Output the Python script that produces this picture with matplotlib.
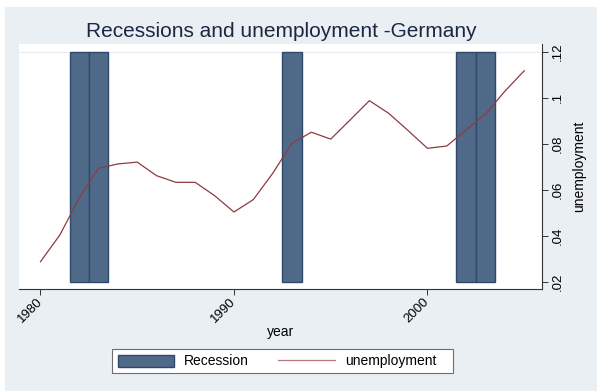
import numpy as np
import matplotlib.pyplot as plt
from matplotlib.patches import Rectangle

plt.rcParams['font.family'] = ['Liberation Sans', 'DejaVu Sans']

# unemployment rate, Germany
years = [1980, 1981, 1982, 1983, 1984, 1985, 1986, 1987, 1988, 1989,
         1990, 1991, 1992, 1993, 1994, 1995, 1996, 1997, 1998, 1999,
         2000, 2001, 2002, 2003, 2004, 2005]
unemployment = [0.0287, 0.0403, 0.0563, 0.0693, 0.0712, 0.0720, 0.0661, 0.0632,
                0.0632, 0.0574, 0.0503, 0.0557, 0.0671, 0.0802, 0.0850, 0.0820,
                0.0903, 0.0987, 0.0932, 0.0857, 0.0780, 0.0790, 0.0860, 0.0929,
                0.1028, 0.1117]

# recession years (bars from base .02 up to .12)
recession_years = [1982, 1983, 1993, 2002, 2003]
recession_top = [0.12, 0.12, 0.12, 0.12, 0.12]
recession_base = 0.02

xticks = [1980, 1990, 2000]
yticks = [0.02, 0.04, 0.06, 0.08, 0.10, 0.12]
ytick_labels = ['.02', '.04', '.06', '.08', '.1', '.12']

bg = '#e9eff2'
bar_color = '#4f6a88'
bar_edge = '#2d4a6c'
line_color = '#8f3a3f'

W, H = 597, 391
fig = plt.figure(figsize=(W / 100, H / 100), dpi=100)
fig.patch.set_facecolor('white')
fig.add_artist(Rectangle((5 / W, 0), 1 - 5 / W, 1 - 7 / H, transform=fig.transFigure,
                         facecolor=bg, edgecolor='none', zorder=-10))

ax = fig.add_axes([19 / W, 1 - 289 / H, (542 - 19) / W, (289 - 44) / H])
ax.set_facecolor('white')

heights = [t - recession_base for t in recession_top]
bars = ax.bar(recession_years, heights, bottom=recession_base, width=1.0,
              color=bar_color, edgecolor=bar_edge, linewidth=1.0, label='Recession', zorder=2)
line, = ax.plot(years, unemployment, color=line_color, linewidth=0.9,
                label='unemployment', zorder=3)
ax.axhline(0.12, color='#e6edf1', linewidth=0.8, zorder=1)

ax.set_xlim(1978.89, 2005.92)
ax.set_ylim(0.01683, 0.12335)

for s in ['top', 'left']:
    ax.spines[s].set_visible(False)
for s in ['bottom', 'right']:
    ax.spines[s].set_color('#333333')
    ax.spines[s].set_linewidth(0.8)

ax.yaxis.tick_right()
ax.yaxis.set_label_position('right')
ax.set_xticks(xticks)
ax.set_xticklabels([str(x) for x in xticks], rotation=45, ha='right',
                   va='center', rotation_mode='anchor', fontsize=9.5)
ax.set_yticks(yticks)
ax.set_yticklabels(ytick_labels, rotation=90, va='center', fontsize=9.5)
ax.tick_params(axis='both', length=4, width=0.7, color='#333333', pad=3)
ax.tick_params(axis='x', pad=4)

ax.set_xlabel('year', fontsize=10, va='top')
ax.xaxis.set_label_coords(0.5, -(325 - 289) / 245)
ax.set_ylabel('unemployment', fontsize=10, labelpad=6)

fig.text(281 / W, 1 - 37 / H, 'Recessions and unemployment -Germany',
         ha='center', va='baseline', fontsize=15, color='#1d2743')

# legend box drawn by hand, items placed inside it
fig.add_artist(Rectangle((112 / W, 1 - 373 / H), (452.5 - 112) / W, 24 / H,
                         transform=fig.transFigure, facecolor='white',
                         edgecolor='#6e6e6e', linewidth=0.8, zorder=5))
leg = fig.legend([bars, line], ['Recession', 'unemployment'], loc='center left',
                 bbox_to_anchor=(117.5 / W, 1 - 361.3 / H), ncol=2,
                 fontsize=10, frameon=False, handlelength=4.1,
                 handleheight=0.95, handletextpad=0.67, columnspacing=2.15,
                 borderpad=0, borderaxespad=0)
leg.set_zorder(6)
leg.get_lines()[0].set_color('#b77a7d')

fig.savefig('out.png', dpi=100)
